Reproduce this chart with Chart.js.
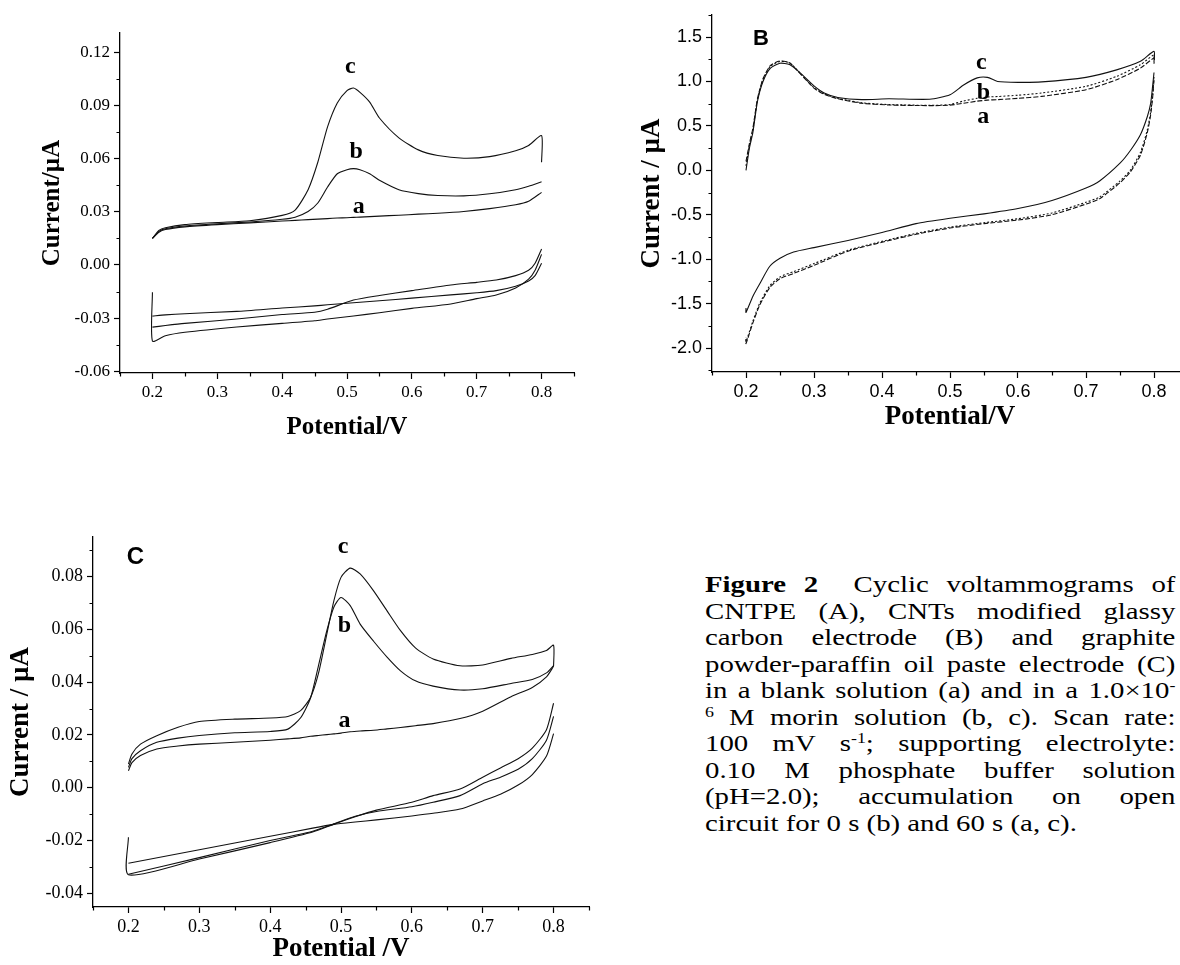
<!DOCTYPE html>
<html>
<head>
<meta charset="utf-8">
<script src="https://cdn.jsdelivr.net/npm/chart.js@4.4.1/dist/chart.umd.min.js"></script>
<style>
  html, body { margin: 0; padding: 0; background: #fff; overflow: hidden; }
  body { width: 1180px; height: 965px; position: relative; }
  canvas { position: absolute; }
  #caption { position: absolute; left: 705px; top: 571px; width: 392px; color: #000;
             transform: scaleX(1.2); transform-origin: 0 0;
             font-family: 'Liberation Serif', serif; font-size: 24px; line-height: 26.5px; }
  #caption .ln { text-align: justify; text-align-last: justify; white-space: nowrap; }
  #caption .ln.last { text-align-last: left; }
  #caption .sup { font-size: 0.62em; vertical-align: 0.55em; line-height: 0; }
</style>
</head>
<body>
<canvas id="panelA" width="600" height="450" style="left:0;top:0"></canvas>
<canvas id="panelB" width="600" height="440" style="left:600px;top:0"></canvas>
<canvas id="panelC" width="620" height="465" style="left:0;top:500px"></canvas>

<div id="caption">
  <div class="ln"><b>Figure 2</b>&nbsp; Cyclic voltammograms of</div>
  <div class="ln">CNTPE (A), CNTs modified glassy</div>
  <div class="ln">carbon electrode (B) and graphite</div>
  <div class="ln">powder-paraffin oil paste electrode (C)</div>
  <div class="ln">in a blank solution (a) and in a 1.0×10<span class="sup">-</span></div>
  <div class="ln"><span class="sup">6</span> M morin solution (b, c). Scan rate:</div>
  <div class="ln">100 mV s<span class="sup">-1</span>; supporting electrolyte:</div>
  <div class="ln">0.10 M phosphate buffer solution</div>
  <div class="ln">(pH=2.0); accumulation on open</div>
  <div class="ln last">circuit for 0 s (b) and 60 s (a, c).</div>
</div>

<script>
// tick values shared by the three panels
const X_TICKS  = [0.2, 0.3, 0.4, 0.5, 0.6, 0.7, 0.8];
const YA_TICKS = [-0.06, -0.03, 0.0, 0.03, 0.06, 0.09, 0.12];
const YB_TICKS = [-2.0, -1.5, -1.0, -0.5, 0.0, 0.5, 1.0, 1.5];
const YC_TICKS = [-0.04, -0.02, 0.0, 0.02, 0.04, 0.06, 0.08];

// ---- Panel A: CNTPE (potential in V, current in uA) ----
const EA_FWD   = [0.20, 0.21, 0.22, 0.25, 0.30, 0.35, 0.40, 0.42, 0.44, 0.455, 0.47, 0.485, 0.50, 0.51, 0.52, 0.535, 0.55, 0.58, 0.61, 0.64, 0.68, 0.72, 0.76, 0.78, 0.80, 0.80];
const IA_FWD_a = [0.015, 0.0185, 0.020, 0.0215, 0.0228, 0.0238, 0.0248, 0.0252, 0.0256, 0.0259, 0.0262, 0.0265, 0.0267, 0.0269, 0.027, 0.0273, 0.0276, 0.0281, 0.0287, 0.0292, 0.0302, 0.0318, 0.034, 0.036, 0.041, 0.041];
const IA_FWD_b = [0.015, 0.019, 0.0205, 0.022, 0.0233, 0.0243, 0.0258, 0.027, 0.0302, 0.035, 0.044, 0.0515, 0.0538, 0.0544, 0.0538, 0.0515, 0.0478, 0.0425, 0.0403, 0.0392, 0.039, 0.0402, 0.0425, 0.0445, 0.047, 0.047];
const IA_FWD_c = [0.015, 0.0195, 0.021, 0.0228, 0.024, 0.025, 0.028, 0.031, 0.0425, 0.058, 0.078, 0.0915, 0.0985, 0.0999, 0.0975, 0.092, 0.083, 0.0718, 0.065, 0.0618, 0.0603, 0.0612, 0.0645, 0.0675, 0.073, 0.058];
const EA_REV   = [0.80, 0.79, 0.78, 0.76, 0.73, 0.70, 0.66, 0.60, 0.55, 0.51, 0.47, 0.45, 0.40, 0.33, 0.25, 0.22, 0.20, 0.20];
const IA_REV_a = [0.001, -0.006, -0.009, -0.012, -0.0145, -0.0157, -0.0169, -0.0187, -0.0202, -0.0213, -0.0225, -0.0231, -0.0243, -0.0262, -0.0275, -0.0282, -0.0289, -0.0289];
const IA_REV_b = [0.006, -0.003, -0.008, -0.013, -0.017, -0.019, -0.022, -0.0245, -0.027, -0.0288, -0.0305, -0.0315, -0.033, -0.035, -0.038, -0.040, -0.043, -0.0154];
const IA_REV_c = [0.009, 0.001, -0.003, -0.006, -0.0085, -0.0098, -0.0113, -0.0145, -0.0172, -0.0198, -0.025, -0.0267, -0.028, -0.0305, -0.033, -0.0342, -0.0351, -0.0351];
const TAGS_A   = [['c', 0.505, 0.112], ['b', 0.514, 0.064], ['a', 0.518, 0.0327]];

// ---- Panel B: CNTs modified glassy carbon electrode ----
const EB_FWD   = [0.20, 0.205, 0.21, 0.217, 0.225, 0.236, 0.25, 0.264, 0.28, 0.30, 0.315, 0.335, 0.37, 0.41, 0.47, 0.50, 0.52, 0.54, 0.555, 0.57, 0.60, 0.635, 0.70, 0.745, 0.78, 0.80, 0.80];
const IB_FWD_a = [0.1, 0.3, 0.47, 0.81, 1.03, 1.18, 1.23, 1.21, 1.085, 0.925, 0.855, 0.805, 0.755, 0.735, 0.728, 0.733, 0.755, 0.778, 0.79, 0.795, 0.81, 0.832, 0.907, 1.02, 1.15, 1.263, 1.2];
const IB_FWD_b = [0.05, 0.28, 0.45, 0.8, 1.02, 1.17, 1.225, 1.21, 1.09, 0.93, 0.86, 0.81, 0.76, 0.74, 0.731, 0.74, 0.78, 0.81, 0.825, 0.83, 0.845, 0.87, 0.945, 1.057, 1.188, 1.30, 1.24];
const IB_FWD_c = [0.0, 0.25, 0.42, 0.78, 1.0, 1.15, 1.205, 1.19, 1.094, 0.95, 0.87, 0.82, 0.795, 0.805, 0.80, 0.85, 0.96, 1.04, 1.046, 1.0, 0.99, 0.995, 1.046, 1.13, 1.226, 1.338, 1.22];
const EB_REV   = [0.80, 0.798, 0.795, 0.79, 0.78, 0.765, 0.75, 0.72, 0.70, 0.65, 0.60, 0.55, 0.50, 0.45, 0.40, 0.35, 0.30, 0.27, 0.25, 0.235, 0.22, 0.21, 0.20, 0.20];
const IB_REV_a = [1.02, 0.82, 0.62, 0.42, 0.17, -0.02, -0.14, -0.32, -0.38, -0.5, -0.56, -0.6, -0.65, -0.72, -0.81, -0.91, -1.07, -1.16, -1.22, -1.32, -1.52, -1.72, -1.95, -1.9];
const IB_REV_b = [1.05, 0.85, 0.65, 0.45, 0.2, 0.0, -0.12, -0.3, -0.36, -0.48, -0.545, -0.59, -0.64, -0.71, -0.8, -0.9, -1.05, -1.14, -1.2, -1.3, -1.5, -1.7, -1.93, -1.88];
const IB_REV_c = [1.1, 0.95, 0.75, 0.6, 0.4, 0.22, 0.08, -0.12, -0.2, -0.34, -0.43, -0.49, -0.54, -0.6, -0.7, -0.79, -0.87, -0.92, -0.99, -1.08, -1.28, -1.42, -1.6, -1.55];
const TAGS_B   = [['c', 0.546, 1.207], ['b', 0.549, 0.87], ['a', 0.549, 0.607]];

// ---- Panel C: graphite powder-paraffin oil paste electrode ----
const EC_FWD   = [0.20, 0.205, 0.217, 0.24, 0.27, 0.30, 0.35, 0.40, 0.425, 0.443, 0.457, 0.468, 0.48, 0.49, 0.50, 0.513, 0.527, 0.546, 0.565, 0.584, 0.605, 0.63, 0.668, 0.70, 0.74, 0.77, 0.79, 0.80, 0.80];
const IC_FWD_a = [0.0064, 0.0095, 0.0122, 0.0147, 0.0158, 0.0165, 0.0172, 0.018, 0.0185, 0.0189, 0.0195, 0.0198, 0.0201, 0.0204, 0.0207, 0.0212, 0.0215, 0.0218, 0.0223, 0.0228, 0.0235, 0.0243, 0.0262, 0.029, 0.0345, 0.038, 0.042, 0.046, 0.046];
const IC_FWD_b = [0.0077, 0.011, 0.014, 0.0172, 0.0188, 0.0198, 0.0208, 0.0213, 0.0222, 0.0265, 0.034, 0.046, 0.0595, 0.0685, 0.0721, 0.069, 0.062, 0.0555, 0.0495, 0.0443, 0.0405, 0.0385, 0.037, 0.0375, 0.0395, 0.041, 0.0435, 0.0463, 0.0463];
const IC_FWD_c = [0.009, 0.0128, 0.0165, 0.0197, 0.0229, 0.0251, 0.026, 0.0264, 0.027, 0.0292, 0.0342, 0.0431, 0.0582, 0.0709, 0.0797, 0.0832, 0.081, 0.0746, 0.067, 0.0595, 0.053, 0.0488, 0.0462, 0.0465, 0.049, 0.0505, 0.052, 0.054, 0.046];
const EC_REV   = [0.80, 0.79, 0.77, 0.75, 0.725, 0.70, 0.668, 0.63, 0.60, 0.55, 0.52, 0.49, 0.46, 0.40, 0.30, 0.20, 0.20];
const IC_REV_a = [0.0205, 0.012, 0.005, 0.001, -0.0025, -0.005, -0.0081, -0.0097, -0.0107, -0.0122, -0.013, -0.0139, -0.0153, -0.0184, -0.0235, -0.0286, -0.0286];
const IC_REV_b = [0.027, 0.018, 0.011, 0.007, 0.004, 0.0015, -0.003, -0.0055, -0.0072, -0.009, -0.0108, -0.0137, -0.0165, -0.020, -0.0265, -0.0328, -0.0328];
const IC_REV_c = [0.032, 0.022, 0.015, 0.011, 0.0075, 0.004, -0.0005, -0.003, -0.0055, -0.0085, -0.011, -0.0138, -0.0168, -0.0208, -0.027, -0.033, -0.0188];
const TAGS_C   = [['c', 0.503, 0.0911], ['b', 0.505, 0.0614], ['a', 0.505, 0.0254]];

const SERIF = "'Liberation Serif', 'Times New Roman', serif";
const SANS = "'Liberation Sans', Arial, sans-serif";

Chart.defaults.color = '#000';

// short minor ticks halfway between the major ones
const minorTicks = {
  id: 'minorTicks',
  afterDraw(chart, args, opts) {
    const ctx = chart.ctx;
    const xs = chart.scales.x, ys = chart.scales.y;
    ctx.save();
    ctx.strokeStyle = '#000';
    ctx.lineWidth = 1.2;
    ctx.beginPath();
    for (let k = Math.ceil(xs.min / opts.x - 1e-6); k * opts.x <= xs.max + 1e-9; k++) {
      if (k % 2 === 0) continue;
      const px = Math.round(xs.getPixelForValue(k * opts.x)) + 0.5;
      ctx.moveTo(px, xs.top);
      ctx.lineTo(px, xs.top + opts.len);
    }
    for (let k = Math.ceil(ys.min / opts.y - 1e-6); k * opts.y <= ys.max + 1e-9; k++) {
      if (Math.abs(k) % 2 === 0) continue;
      const py = Math.round(ys.getPixelForValue(k * opts.y)) + 0.5;
      ctx.moveTo(ys.right, py);
      ctx.lineTo(ys.right - opts.len, py);
    }
    ctx.stroke();
    ctx.restore();
  }
};

// curve letters (a, b, c) and the panel letter
const tags = {
  id: 'tags',
  afterDatasetsDraw(chart, args, opts) {
    const ctx = chart.ctx;
    ctx.save();
    ctx.fillStyle = '#000';
    ctx.textAlign = 'center';
    ctx.textBaseline = 'middle';
    opts.items.forEach(t => {
      ctx.font = t[3] || opts.font;
      ctx.fillText(t[0], chart.scales.x.getPixelForValue(t[1]), chart.scales.y.getPixelForValue(t[2]));
    });
    ctx.restore();
  }
};

function pts(E, I) {
  return E.map((e, k) => ({ x: e, y: I[k] }));
}

function trace(E, I, dash) {
  return {
    data: pts(E, I),
    showLine: true,
    borderColor: '#111',
    borderWidth: 1.1,
    borderDash: dash || [],
    pointRadius: 0,
    tension: 0.22,
    fill: false
  };
}

function cv(id, datasets, o) {
  return new Chart(document.getElementById(id), {
    type: 'scatter',
    data: { datasets: datasets },
    plugins: [minorTicks, tags],
    options: {
      responsive: false,
      animation: false,
      devicePixelRatio: 1,
      layout: { padding: { top: o.padTop, right: o.padRight, left: 0, bottom: 0 } },
      plugins: {
        legend: { display: false },
        tooltip: { enabled: false },
        minorTicks: { x: 0.05, y: o.yMinor, len: 3.5 },
        tags: { items: o.tags, font: 'bold 24px ' + SERIF }
      },
      scales: {
        x: {
          type: 'linear', min: 0.15, max: 0.85,
          afterBuildTicks: s => { s.ticks = X_TICKS.map(v => ({ value: v })); },
          afterFit: s => { s.height = o.xH; },
          border: { display: true, color: '#000', width: 1.3 },
          grid: { drawOnChartArea: false, drawTicks: true, tickLength: 6, tickColor: '#000', tickWidth: 1.2 },
          ticks: { autoSkip: false, maxRotation: 0, padding: 3,
                   font: { family: o.tickFamily, size: o.tickSize }, callback: v => v.toFixed(1) },
          title: { display: true, text: o.xTitle, font: { family: SERIF, size: o.titleSize, weight: 'bold' },
                   padding: { top: 0, bottom: o.xTitlePad } }
        },
        y: {
          type: 'linear', min: o.yMin, max: o.yMax,
          afterBuildTicks: s => { s.ticks = o.yTicks.map(v => ({ value: v })); },
          afterFit: s => { s.width = o.yW; },
          border: { display: true, color: '#000', width: 1.3 },
          grid: { drawOnChartArea: false, drawTicks: true, tickLength: 6, tickColor: '#000', tickWidth: 1.2 },
          ticks: { autoSkip: false, padding: 4,
                   font: { family: o.tickFamily, size: o.tickSize }, callback: v => v.toFixed(o.yDec) },
          title: { display: true, text: o.yTitle, font: { family: SERIF, size: o.titleSize, weight: 'bold' },
                   padding: { top: o.yTitlePad, bottom: 0 } }
        }
      }
    }
  });
}

cv('panelA', [
  trace(EA_FWD, IA_FWD_a), trace(EA_FWD, IA_FWD_b), trace(EA_FWD, IA_FWD_c),
  trace(EA_REV, IA_REV_a), trace(EA_REV, IA_REV_b), trace(EA_REV, IA_REV_c)
], {
  yMin: -0.061, yMax: 0.131, yTicks: YA_TICKS, yMinor: 0.015, yDec: 2, yW: 120, xH: 77, padTop: 33, padRight: 26,
  tickFamily: SERIF, tickSize: 17, titleSize: 25, yTitle: 'Current/µA', xTitle: 'Potential/V',
  yTitlePad: 38, xTitlePad: 7, tags: TAGS_A
});

cv('panelB', [
  trace(EB_FWD, IB_FWD_a, [5, 2]), trace(EB_FWD, IB_FWD_b, [2, 2]), trace(EB_FWD, IB_FWD_c),
  trace(EB_REV, IB_REV_a, [5, 2]), trace(EB_REV, IB_REV_b, [2, 2]), trace(EB_REV, IB_REV_c)
], {
  yMin: -2.27, yMax: 1.75, yTicks: YB_TICKS, yMinor: 0.25, yDec: 1, yW: 112, xH: 68, padTop: 14, padRight: 12,
  tickFamily: SANS, tickSize: 18, titleSize: 27, yTitle: 'Current / µA', xTitle: 'Potential/V',
  yTitlePad: 36, xTitlePad: 7, tags: TAGS_B.concat([['B', 0.222, 1.48, 'bold 22px ' + SANS]])
});

cv('panelC', [
  trace(EC_FWD, IC_FWD_a), trace(EC_FWD, IC_FWD_b), trace(EC_FWD, IC_FWD_c),
  trace(EC_REV, IC_REV_a), trace(EC_REV, IC_REV_b), trace(EC_REV, IC_REV_c)
], {
  yMin: -0.0452, yMax: 0.095, yTicks: YC_TICKS, yMinor: 0.01, yDec: 2, yW: 93, xH: 58, padTop: 37, padRight: 31,
  tickFamily: SERIF, tickSize: 18, titleSize: 27, yTitle: 'Current / µA', xTitle: 'Potential /V',
  yTitlePad: 5, xTitlePad: 0, tags: TAGS_C.concat([['C', 0.21, 0.0873, 'bold 24px ' + SANS]])
});
</script>
</body>
</html>
